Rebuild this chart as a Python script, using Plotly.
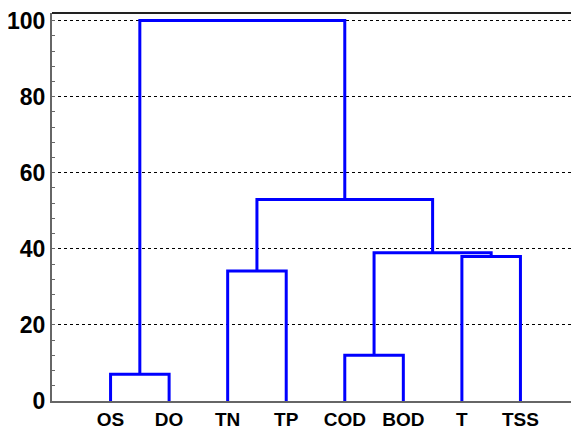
import plotly.graph_objects as go

# Leaf labels (in dendrogram order)
labels = ["OS", "DO", "TN", "TP", "COD", "BOD", "T", "TSS"]
# Linkage: (left cluster, right cluster, height); clusters 0-7 are leaves, 8+ are merges
merge_left = [0, 2, 4, 6, 10, 9, 8]
merge_right = [1, 3, 5, 7, 11, 12, 13]
merge_height = [7.0, 34.2, 12.0, 38.0, 39.0, 53.0, 100.0]
y_ticks = [0, 20, 40, 60, 80, 100]

# positions of clusters
pos = {i: i + 1 for i in range(len(labels))}
hgt = {i: 0.0 for i in range(len(labels))}

xs, ys = [], []
for k, (a, b, h) in enumerate(zip(merge_left, merge_right, merge_height)):
    cid = len(labels) + k
    xs += [pos[a], pos[a], pos[b], pos[b], None]
    ys += [hgt[a], h, h, hgt[b], None]
    pos[cid] = (pos[a] + pos[b]) / 2
    hgt[cid] = h

fig = go.Figure()
fig.add_trace(go.Scatter(x=xs, y=ys, mode="lines",
                         line=dict(color="#0000FF", width=3),
                         hoverinfo="skip", showlegend=False))

xfont = dict(family="Liberation Sans, Arial, sans-serif", size=19, color="black", weight="bold")
yfont = dict(family="Liberation Sans, Arial, sans-serif", size=23, color="black", weight="bold")

# page body has an 8px default margin; compensate so the plot area matches
fig.update_layout(
    width=571, height=421,
    margin=dict(l=44, r=0, t=5, b=28),
    paper_bgcolor="white", plot_bgcolor="white",
    showlegend=False,
    xaxis=dict(range=[0, 9], tickvals=list(range(1, len(labels) + 1)), ticktext=labels,
               tickfont=xfont, showgrid=False, zeroline=False, showline=True,
               linecolor="#666666", linewidth=2, ticks="", ticklabelstandoff=0,
               automargin=False, ticklabeloverflow="allow"),
    yaxis=dict(range=[0, 102], tickvals=y_ticks, tickfont=yfont,
               showgrid=True, gridcolor="black", gridwidth=1, griddash="dot",
               zeroline=False, showline=True, linecolor="#666666", linewidth=2,
               ticks="inside", ticklen=3, tickcolor="#666666",
               minor=dict(dtick=4, ticks="inside", ticklen=3, tickcolor="#666666", showgrid=False),
               ticklabelstandoff=0, automargin=False, ticklabeloverflow="allow"),
)
fig.add_shape(type="line", xref="paper", yref="paper", x0=0, x1=1, y0=1, y1=1,
              line=dict(color="#222222", width=2))
fig.write_html("out.html")
